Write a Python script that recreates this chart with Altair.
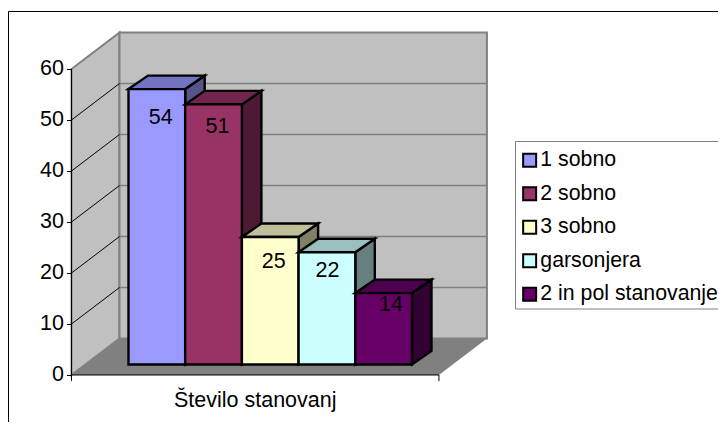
import altair as alt
import pandas as pd

# --- chart values -------------------------------------------------------
series = ["1 sobno", "2 sobno", "3 sobno", "garsonjera", "2 in pol stanovanje"]
values = [54, 51, 25, 22, 14]
category = ["Število stanovanj"]
y_ticks = [0, 10, 20, 30, 40, 50, 60]
front_colors = ["#9999FF", "#993366", "#FFFFCC", "#CCFFFF", "#660066"]
top_colors = ["#7373BF", "#73264D", "#BFBF99", "#99BFBF", "#4D004D"]
side_colors = ["#55558A", "#4D1A33", "#808066", "#668080", "#330033"]
label_drop = [5.6, 4.5, 5.0, 3.7, 2.4]        # value units below each bar's top
label_shift = [0.07, 0.07, 0.06, 0.01, 0.13]  # bar widths right of each bar's centre

# --- oblique projection, in data units (x: bar widths, y: value units) ---
WALL_DX, WALL_DY = 0.8466, 7.157   # depth of floor and walls
BAR_DX, BAR_DY = 0.344, 2.65       # depth of a bar
FLOOR_W = 6.48                     # floor width
BAR_X0 = 1.005                     # first bar's left edge
BAR_BASE = 2.06                    # bar front base above the axis zero
Y_MAX = 60
FONT = "Liberation Sans"
FS = 21.5
LEGEND_FS = 21.3
EDGE = 2.4
W, H = 710, 414

x_scale = alt.Scale(domain=[-1.12, 11.402], nice=False, zero=False)
y_scale = alt.Scale(domain=[-9.216, 71.96], nice=False, zero=False)
y_axis = alt.Axis(
    values=y_ticks,
    title=None,
    domain=False,
    grid=False,
    offset=-63.5,
    tickSize=5,
    tickColor="black",
    tickWidth=1,
    labelFont=FONT,
    labelFontSize=FS,
    labelColor="black",
    labelPadding=3,
    zindex=1,
)
X = lambda: alt.X("x:Q", scale=x_scale, axis=None)
Y = lambda: alt.Y("y:Q", scale=y_scale, axis=y_axis, stack=None)


def face(xs, ys, y2s, fill, stroke=None, width=0):
    df = pd.DataFrame({"x": xs, "y": ys, "y2": y2s})
    kw = dict(fill=fill, interpolate="linear", clip=False)
    if stroke:
        kw.update(stroke=stroke, strokeWidth=width, strokeJoin="miter")
    return alt.Chart(df).mark_area(**kw).encode(x=X(), y=Y(), y2="y2:Q")


def path(xs, ys, color, width):
    df = pd.DataFrame({"x": xs, "y": ys, "o": range(len(xs))})
    return alt.Chart(df).mark_line(color=color, strokeWidth=width, clip=False).encode(
        x=X(), y=Y(), order="o:Q"
    )


layers = []

# chart frame and legend box
one = pd.DataFrame({"a": [0]})
layers.append(
    alt.Chart(one).mark_rect(fill="white", stroke="black", strokeWidth=1).encode(
        x=alt.value(0.5), x2=alt.value(W + 20), y=alt.value(3.5), y2=alt.value(H + 20)
    )
)
layers.append(
    alt.Chart(one).mark_rect(fill="white", stroke="#808080", strokeWidth=1).encode(
        x=alt.value(507.5), x2=alt.value(W + 20), y=alt.value(133.5), y2=alt.value(301)
    )
)

# walls and floor
layers.append(face([0, WALL_DX], [Y_MAX, Y_MAX + WALL_DY], [0, WALL_DY], "#C0C0C0", "#808080", 2))
layers.append(face([WALL_DX, WALL_DX + FLOOR_W], [Y_MAX + WALL_DY] * 2, [WALL_DY] * 2, "#C0C0C0", "#808080", 2))
for t in y_ticks[1:-1]:
    layers.append(path([WALL_DX, WALL_DX + FLOOR_W], [t + WALL_DY] * 2, "#808080", 1.6))
    layers.append(path([0, WALL_DX], [t, t + WALL_DY], "#000000", 1))
layers.append(
    face([0, WALL_DX, FLOOR_W, FLOOR_W + WALL_DX], [0, WALL_DY, WALL_DY, WALL_DY], [0, 0, 0, WALL_DY], "#808080")
)

# bars, back to front in drawing order
fill_scale = alt.Scale(domain=series, range=front_colors)
for i, (name, v) in enumerate(zip(series, values)):
    x_l, x_r = BAR_X0 + i, BAR_X0 + i + 1
    top = BAR_BASE + v
    layers.append(
        face([x_r, x_r + BAR_DX], [top, top + BAR_DY], [BAR_BASE, BAR_BASE + BAR_DY], side_colors[i], "black", EDGE)
    )
    layers.append(
        face(
            [x_l, x_l + BAR_DX, x_r, x_r + BAR_DX],
            [top, top + BAR_DY, top + BAR_DY, top + BAR_DY],
            [top, top, top, top + BAR_DY],
            top_colors[i],
            "black",
            EDGE,
        )
    )
    df = pd.DataFrame({"x": [x_l], "x2": [x_r], "y": [BAR_BASE], "y2": [top], "name": [name]})
    layers.append(
        alt.Chart(df).mark_rect(stroke="black", strokeWidth=EDGE).encode(
            x=X(),
            x2="x2:Q",
            y=Y(),
            y2="y2:Q",
            fill=alt.Fill(
                "name:N",
                scale=fill_scale,
                legend=alt.Legend(
                    title=None,
                    orient="none",
                    legendX=511,
                    legendY=141.5,
                    direction="vertical",
                    symbolType="square",
                    symbolSize=169,
                    symbolStrokeColor="black",
                    symbolStrokeWidth=2,
                    labelFont=FONT,
                    labelFontSize=LEGEND_FS,
                    labelColor="black",
                    labelOffset=0,
                    rowPadding=10.5,
                    padding=0,
                    labelLimit=300,
                ),
            ),
        )
    )

# value labels
lab = pd.DataFrame(
    {
        "x": [BAR_X0 + i + 0.5 + s for i, s in enumerate(label_shift)],
        "y": [BAR_BASE + v - d for v, d in zip(values, label_drop)],
        "t": [str(v) for v in values],
    }
)
layers.append(
    alt.Chart(lab).mark_text(font=FONT, fontSize=FS, color="black", align="center", baseline="middle").encode(
        x=X(), y=Y(), text="t:N"
    )
)

# axes
layers.append(path([0, 0], [0, Y_MAX], "black", 1))
layers.append(path([0, FLOOR_W], [0, 0], "black", 1))
for tx in (0, FLOOR_W):
    layers.append(path([tx, tx], [0, -1.2], "black", 1))
cat = pd.DataFrame({"x": [FLOOR_W / 2], "y": [-5.1], "t": category})
layers.append(
    alt.Chart(cat).mark_text(font=FONT, fontSize=FS, color="black", align="center", baseline="middle").encode(
        x=X(), y=Y(), text="t:N"
    )
)

chart = (
    alt.layer(*layers)
    .properties(width=W, height=H, padding=0, autosize=alt.AutoSizeParams(type="none"), background="white")
    .configure_view(stroke=None)
)
chart.save("out.html", embed_options={"renderer": "svg", "actions": False})
